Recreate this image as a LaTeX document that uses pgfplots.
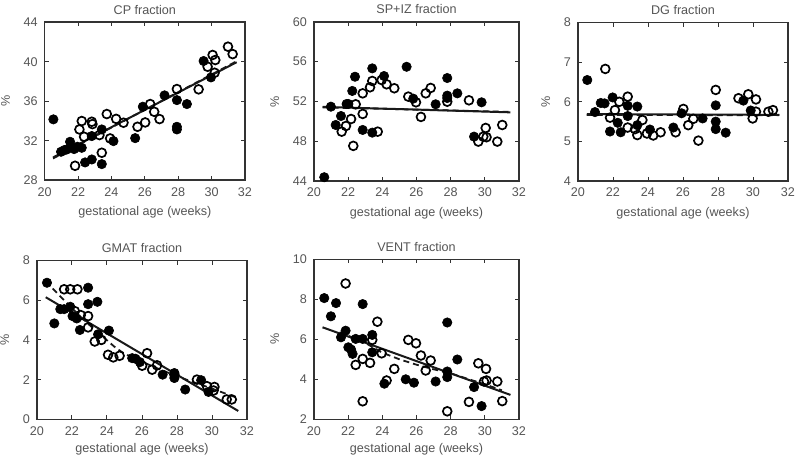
\documentclass[border=0pt]{standalone}
\usepackage{fontspec}
\setmainfont{Liberation Sans}
\usepackage{pgfplots}
\pgfplotsset{compat=1.18}
\definecolor{txt}{HTML}{555555}
\definecolor{ax}{HTML}{333333}
\pgfplotsset{
  panel/.style={
    scale only axis,
    axis line style={ax, line width=0.75pt},
    tick style={ax, line width=0.5pt},
    tick align=inside,
    tick pos=both,
    major tick length=2pt,
    font=\fontsize{6.3}{7.5}\selectfont,
    tick label style={txt, font=\fontsize{6.3}{7.5}\selectfont},
    label style={txt, font=\fontsize{6.3}{7.5}\selectfont},
    xlabel style={yshift=1.8pt},
    title style={txt, font=\fontsize{6.3}{7.5}\selectfont, yshift=-5.6pt},
    /pgf/number format/assume math mode=true,
    xmin=20, xmax=32, xtick={20,22,...,32},
    xlabel={gestational age (weeks)},
    ylabel={\%},
  },
  filled/.style={only marks, mark=*, mark size=2.35pt, mark options={fill=black, draw=black, line width=0.3pt}},
  open/.style={only marks, mark=o, mark size=2.2pt, mark options={draw=black, line width=0.85pt}},
  fit/.style={black!90, line width=1pt, no marks},
  fitd/.style={black!90, line width=0.9pt, no marks, dash pattern=on 3pt off 2pt},
}
\begin{document}
\begin{tikzpicture}
\useasboundingbox (0,0) rectangle (400pt,231pt);
% ---------------- CP ----------------
\begin{axis}[panel, at={(22.35pt,140.9pt)}, anchor=south west, width=100.15pt, height=79pt,
  ymin=28, ymax=44, ytick={28,32,...,44}, title={CP fraction}]
\addplot[filled] coordinates {
(20.52,34.16) (20.98,30.88) (21.18,31.05) (21.32,31.11) (21.52,31.89) (21.76,31.15)
(21.96,31.39) (22.22,31.28) (22.42,29.80) (22.82,32.47) (22.82,30.10) (23.42,33.14)
(23.42,29.63) (24.12,31.96) (25.42,32.26) (25.88,35.44) (27.18,36.59) (27.92,36.11)
(27.92,33.41) (27.92,33.14) (28.52,35.71) (29.52,40.07) (29.96,38.41)};
\addplot[open] coordinates {
(21.82,29.46) (22.08,33.14) (22.22,33.99) (22.36,32.40) (22.82,33.92) (22.86,33.68)
(23.28,32.57) (23.42,30.78) (23.72,34.70) (23.92,32.23) (24.28,34.21) (24.72,33.82)
(25.56,33.41) (26.02,33.85) (26.32,35.71) (26.56,34.93) (26.88,34.19) (27.92,37.23)
(29.22,37.20) (29.76,39.49) (30.06,40.68) (30.22,40.17) (30.18,38.88) (30.98,41.52)
(31.26,40.77)};
\addplot[fit] coordinates {(20.5,30.3) (31.5,39.95)};
\addplot[fitd] coordinates {(20.5,30.2) (31.5,40.05)};
\end{axis}
% ---------------- SP+IZ ----------------
\begin{axis}[panel, at={(157pt,140.5pt)}, anchor=south west, width=102.5pt, height=79.6pt,
  ymin=44, ymax=60, ytick={44,48,...,60}, title={SP+IZ fraction}]
\addplot[filled] coordinates {
(20.60,44.38) (20.99,51.47) (21.27,49.63) (21.58,50.53) (21.91,51.74) (22.01,51.74)
(22.24,53.05) (22.40,54.48) (22.85,49.13) (23.41,55.32) (23.41,48.86) (24.10,54.55)
(25.42,55.48) (25.81,52.28) (27.12,51.71) (27.80,54.35) (27.80,52.58) (27.80,52.34)
(28.39,52.81) (29.37,48.46) (29.81,51.91)};
\addplot[open] coordinates {
(21.62,48.96) (21.87,49.53) (22.17,50.23) (22.44,51.71) (22.30,47.53) (22.85,52.81)
(22.85,50.74) (23.28,53.42) (23.41,54.05) (23.73,48.96) (23.96,54.15) (24.25,53.72)
(24.70,53.32) (25.52,52.48) (25.97,51.91) (26.26,50.44) (26.54,52.81) (26.83,53.35)
(27.80,51.97) (29.07,52.11) (29.62,47.96) (29.91,48.46) (30.05,49.33) (30.10,48.40)
(30.73,47.96) (31.02,49.63)};
\addplot[fit] coordinates {(20.5,51.45) (31.5,50.9)};
\addplot[fitd] coordinates {(20.5,51.4) (31.5,50.95)};
\end{axis}
% ---------------- DG ----------------
\begin{axis}[panel, at={(289pt,140.5pt)}, anchor=south west, width=105pt, height=79.2pt,
  ymin=4, ymax=8, ytick={4,5,...,8}, title={DG fraction}]
\addplot[filled] coordinates {
(20.53,6.55) (20.97,5.74) (21.30,5.97) (21.52,5.96) (21.83,5.25) (21.98,6.11)
(22.27,5.47) (22.44,5.23) (22.84,5.90) (22.84,5.64) (23.39,5.88) (23.39,5.41)
(24.11,5.30) (25.45,5.35) (25.92,5.71) (27.12,5.58) (27.87,5.91) (27.87,5.50)
(27.87,5.31) (28.44,5.22) (29.45,6.03) (29.87,5.78)};
\addplot[open] coordinates {
(21.56,6.83) (21.83,5.60) (22.11,5.79) (22.36,6.00) (22.84,6.13) (22.84,5.35)
(23.26,5.31) (23.39,5.16) (23.68,5.54) (23.94,5.20) (24.30,5.15) (24.72,5.23)
(25.58,5.23) (26.02,5.82) (26.30,5.41) (26.59,5.57) (26.88,5.02) (27.87,6.30)
(29.17,6.09) (29.73,6.19) (30.17,6.06) (29.98,5.58) (30.17,5.75) (30.88,5.75)
(31.14,5.79)};
\addplot[fit] coordinates {(20.5,5.69) (31.5,5.67)};
\addplot[fitd] coordinates {(20.5,5.67) (31.5,5.66)};
\end{axis}
% ---------------- GMAT ----------------
\begin{axis}[panel, at={(18.5pt,21.35pt)}, anchor=south west, width=105pt, height=79.4pt,
  ymin=0, ymax=8, ytick={0,2,...,8}, title={GMAT fraction}, xlabel style={yshift=1pt}]
\addplot[filled] coordinates {
(20.57,6.88) (20.99,4.83) (21.33,5.55) (21.55,5.55) (21.90,5.67) (22.03,5.20)
(22.27,5.08) (22.45,4.50) (22.92,6.63) (22.92,5.80) (23.45,5.92) (23.49,4.28)
(24.11,4.47) (25.44,3.08) (25.63,3.05) (25.88,2.88) (27.18,2.25) (27.85,2.33)
(27.85,2.08) (28.47,1.50) (29.38,1.97) (29.80,1.38)};
\addplot[open] coordinates {
(21.55,6.55) (21.90,6.55) (22.31,6.55) (22.16,5.45) (22.50,5.25) (22.92,5.20)
(22.92,4.63) (23.30,3.92) (23.68,4.00) (24.06,3.25) (24.36,3.12) (24.72,3.20)
(26.29,3.33) (26.01,2.70) (26.58,2.50) (26.86,2.72) (27.85,2.25) (29.14,2.00)
(29.71,1.67) (30.14,1.63) (30.09,1.45) (30.84,1.00) (31.13,1.00)};
\addplot[fit] coordinates {(20.5,6.15) (31.5,0.42)};
\addplot[fitd] coordinates {
(20.5,6.95) (21.3,6.22) (22,5.6) (23,4.75) (24,3.98) (24.5,3.6) (25,3.3) (26,2.9)
(27,2.52) (28,2.17) (29,1.85) (30,1.55) (31,1.22) (31.5,1.06)};
\end{axis}
% ---------------- VENT ----------------
\begin{axis}[panel, at={(157pt,21.35pt)}, anchor=south west, width=102.5pt, height=80pt,
  ymin=2, ymax=10, ytick={2,4,...,10}, title={VENT fraction}, xlabel style={yshift=1pt}]
\addplot[filled] coordinates {
(20.60,8.06) (20.99,7.15) (21.29,7.81) (21.58,6.10) (21.85,6.43) (22.01,5.60)
(22.17,5.49) (22.26,5.27) (22.44,6.02) (22.85,7.76) (22.85,6.02) (23.41,6.22)
(23.41,5.35) (24.12,3.78) (25.37,4.00) (25.85,3.83) (27.12,3.89) (27.80,6.84)
(27.80,4.39) (27.80,4.11) (28.39,4.99) (29.37,3.61) (29.81,2.66)};
\addplot[open] coordinates {
(21.85,8.79) (22.44,4.72) (22.85,5.02) (22.85,2.90) (23.28,4.82) (23.41,5.97)
(23.71,6.88) (23.96,5.30) (24.25,3.94) (24.70,4.52) (25.52,5.97) (25.97,5.80)
(26.26,5.19) (26.54,4.44) (26.83,4.94) (27.80,2.40) (29.07,2.87) (29.62,4.80)
(30.07,4.52) (29.95,3.89) (30.10,3.94) (30.73,3.89) (31.02,2.91)};
\addplot[fit] coordinates {(20.5,6.6) (31.5,3.22)};
\addplot[fitd] coordinates {
(21.5,6.35) (22.9,5.87) (24,5.33) (25,5.0) (26,4.73) (27,4.5) (28,4.3) (29,4.02)
(30,3.75) (31,3.45)};
\end{axis}
\end{tikzpicture}
\end{document}
